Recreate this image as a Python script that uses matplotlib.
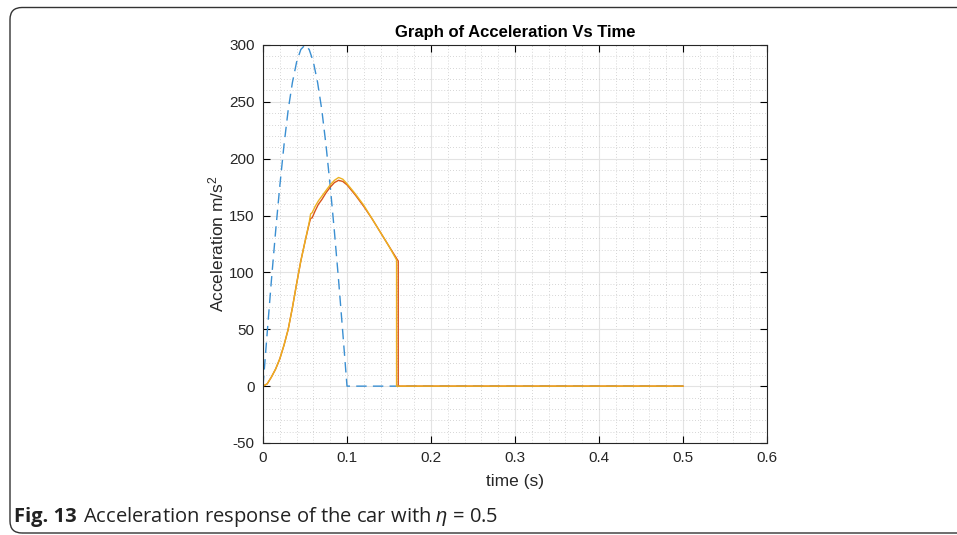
import matplotlib
matplotlib.use("Agg")
import matplotlib.pyplot as plt
from matplotlib.patches import FancyBboxPatch
from matplotlib.transforms import IdentityTransform
from matplotlib.ticker import MultipleLocator

# road input (blue dashed)
t_in = [0, 0.005, 0.01, 0.015, 0.02, 0.025, 0.03, 0.035, 0.04, 0.045, 0.05,
        0.055, 0.06, 0.065, 0.07, 0.075, 0.08, 0.085, 0.09, 0.095, 0.1, 0.5]
a_in = [0, 47, 93, 136, 176, 212, 243, 267, 285, 296, 300,
        296, 285, 267, 243, 212, 176, 136, 93, 47, 0, 0]

# response 1 (red)
t_r = [0, 0.005, 0.01, 0.015, 0.02, 0.025, 0.03, 0.035, 0.04, 0.045, 0.05,
       0.055, 0.0567, 0.0585, 0.062, 0.066, 0.07, 0.075, 0.08, 0.085, 0.09,
       0.095, 0.1, 0.11, 0.12, 0.13, 0.14, 0.15, 0.161, 0.161, 0.5]
a_r = [0, 2, 8, 15, 24, 36, 50, 69, 90, 110, 127,
       143, 147.5, 148, 154, 160, 164, 170, 175, 179, 181,
       180, 177, 168, 158, 147, 135, 123, 110, 0, 0]

# response 2 (yellow)
t_y = [0, 0.005, 0.01, 0.015, 0.02, 0.025, 0.03, 0.035, 0.04, 0.045, 0.05,
       0.055, 0.0567, 0.0585, 0.062, 0.066, 0.07, 0.075, 0.08, 0.085, 0.09,
       0.095, 0.1, 0.11, 0.12, 0.13, 0.14, 0.15, 0.159, 0.159, 0.5]
a_y = [0, 2, 8, 15, 24, 36, 50, 69, 90, 110, 127,
       144, 151.5, 152.5, 158, 163, 167, 172, 177, 181, 183.5,
       182, 178, 169, 159, 147, 135, 123, 111, 0, 0]

xticks = [0, 0.1, 0.2, 0.3, 0.4, 0.5, 0.6]
xtick_labels = ['0', '0.1', '0.2', '0.3', '0.4', '0.5', '0.6']

plt.rcParams['font.family'] = ['Liberation Sans', 'DejaVu Sans']
plt.rcParams['mathtext.fontset'] = 'custom'
plt.rcParams['mathtext.rm'] = 'Liberation Sans'
plt.rcParams['mathtext.it'] = 'Liberation Sans:italic'
plt.rcParams['axes.unicode_minus'] = False

fig = plt.figure(figsize=(9.57, 5.35), dpi=100)
ax = fig.add_axes([263/957, 1-443/535, 504/957, 398/535])

ax.plot(t_in, a_in, color='#3a8fd2', lw=1.0, dashes=(7.5, 4.5))
ax.plot(t_r, a_r, color='#D95319', lw=1.0)
ax.plot(t_y, a_y, color='#EDB120', lw=1.0)

ax.set_xlim(0, 0.6)
ax.set_ylim(-50, 300)
ax.set_xticks(xticks)
ax.set_xticklabels(xtick_labels)
ax.xaxis.set_minor_locator(MultipleLocator(0.02))
ax.yaxis.set_major_locator(MultipleLocator(50))
ax.yaxis.set_minor_locator(MultipleLocator(10))

ax.grid(which='major', color='#e3e3e3', lw=0.8, ls='-')
ax.grid(which='minor', color='#c8c8c8', lw=0.6, ls=(0, (1, 2.5)))
ax.set_axisbelow(True)
ax.tick_params(which='major', direction='in', length=5, width=0.8,
               top=True, right=True, labelsize=11, labelcolor='#262626', pad=6)
ax.tick_params(which='minor', length=0, top=True, right=True)
for s in ax.spines.values():
    s.set_color('#262626')
    s.set_linewidth(0.8)

ax.set_title('Graph of Acceleration Vs Time', fontsize=12, fontweight='bold', pad=6)
ax.set_xlabel('time (s)', fontsize=12.5, color='#262626', labelpad=6)
ax.set_ylabel(r'Acceleration m/s$^2$', fontsize=12.5, color='#262626', labelpad=2)

# page frame
frame = FancyBboxPatch((10, 2), 990, 525.5, boxstyle='round,pad=0,rounding_size=12',
                       transform=IdentityTransform(), fill=False, ec='#333333', lw=1.0)
fig.add_artist(frame)

cap_font = ['Open Sans', 'DejaVu Sans']
t1 = fig.text(14/957, 1-522/535, 'Fig. 13', fontsize=14.5, fontweight='bold',
              family=cap_font, color='#222222', va='baseline')
fig.canvas.draw()
w = t1.get_window_extent(fig.canvas.get_renderer()).width
fig.text((14 + w + 6)/957, 1-522/535,
         'Acceleration response of the car with $\\mathit{\u03b7}$ = 0.5',
         fontsize=14.5, family=cap_font, color='#222222', va='baseline')

fig.savefig('out.png', dpi=100)
